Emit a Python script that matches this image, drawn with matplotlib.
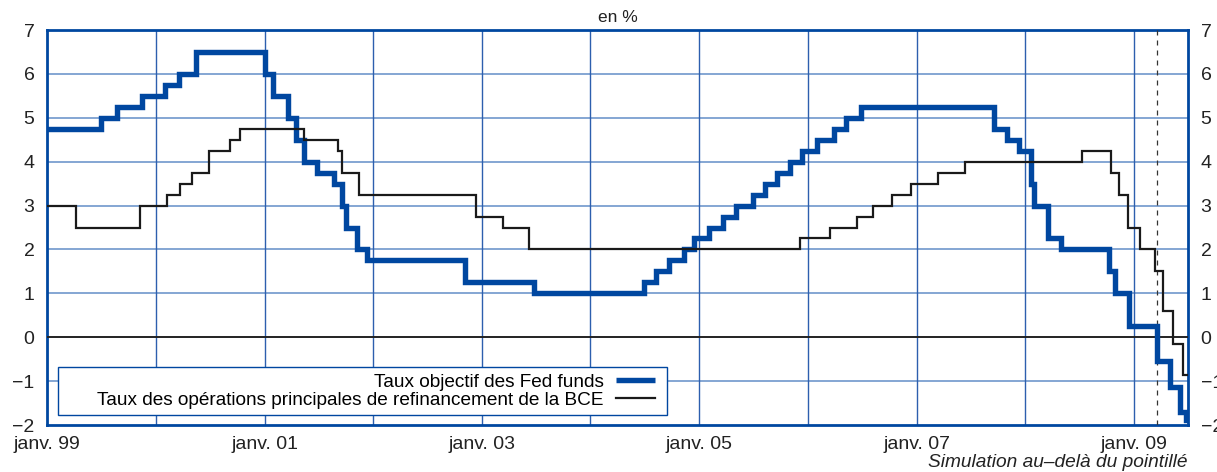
import matplotlib
matplotlib.use("Agg")
import matplotlib.pyplot as plt
from matplotlib.patches import Rectangle
import pandas as pd

plt.rcParams['font.family'] = ['Liberation Sans', 'DejaVu Sans']

# Taux objectif des Fed funds (dates de changement, valeurs)
fed_dates = ["1999-01-01", "1999-06-30", "1999-08-24", "1999-11-16", "2000-02-02",
             "2000-03-21", "2000-05-16", "2001-01-03", "2001-01-31", "2001-03-20",
             "2001-04-18", "2001-05-15", "2001-06-27", "2001-08-21", "2001-09-17",
             "2001-10-02", "2001-11-06", "2001-12-11", "2002-11-06", "2003-06-25",
             "2004-06-30", "2004-08-10", "2004-09-21", "2004-11-10", "2004-12-14",
             "2005-02-02", "2005-03-22", "2005-05-03", "2005-06-30", "2005-08-09",
             "2005-09-20", "2005-11-01", "2005-12-13", "2006-01-31", "2006-03-28",
             "2006-05-10", "2006-06-29", "2007-09-18", "2007-10-31", "2007-12-11",
             "2008-01-22", "2008-01-30", "2008-03-18", "2008-04-30", "2008-10-08",
             "2008-10-29", "2008-12-16", "2009-03-20", "2009-05-01", "2009-06-03",
             "2009-06-24", "2009-07-01"]
fed_values = [4.75, 5.00, 5.25, 5.50, 5.75, 6.00, 6.50, 6.00, 5.50, 5.00,
              4.50, 4.00, 3.75, 3.50, 3.00, 2.50, 2.00, 1.75, 1.25, 1.00,
              1.25, 1.50, 1.75, 2.00, 2.25, 2.50, 2.75, 3.00, 3.25, 3.50,
              3.75, 4.00, 4.25, 4.50, 4.75, 5.00, 5.25, 4.75, 4.50, 4.25,
              3.50, 3.00, 2.25, 2.00, 1.50, 1.00, 0.25, -0.55, -1.13, -1.70,
              -1.88, -1.88]

# Taux des opérations principales de refinancement de la BCE
bce_dates = ["1999-01-01", "1999-04-09", "1999-11-10", "2000-02-09", "2000-03-22",
             "2000-05-03", "2000-06-28", "2000-09-06", "2000-10-11", "2001-05-15",
             "2001-09-05", "2001-09-18", "2001-11-14", "2002-12-11", "2003-03-12",
             "2003-06-09", "2005-12-06", "2006-03-15", "2006-06-15", "2006-08-09",
             "2006-10-11", "2006-12-13", "2007-03-14", "2007-06-13", "2008-07-09",
             "2008-10-15", "2008-11-12", "2008-12-10", "2009-01-21", "2009-03-11",
             "2009-04-08", "2009-05-12", "2009-06-14", "2009-07-01"]
bce_values = [3.00, 2.50, 3.00, 3.25, 3.50, 3.75, 4.25, 4.50, 4.75, 4.50,
              4.25, 3.75, 3.25, 2.75, 2.50, 2.00, 2.25, 2.50, 2.75, 3.00,
              3.25, 3.50, 3.75, 4.00, 4.25, 3.75, 3.25, 2.50, 2.00, 1.50,
              0.60, -0.15, -0.85, -0.85]

simulation_start = "2009-03-20"
x_start, x_end = "1999-01-01", "2009-07-01"

blue = '#0047a0'
txt = '#222222'

fig = plt.figure(figsize=(12.17, 4.72), dpi=100)
ax = fig.add_axes([47 / 1217, 1 - 425 / 472, 1141 / 1217, 395 / 472])

fed_x = pd.to_datetime(fed_dates)
bce_x = pd.to_datetime(bce_dates)

ax.step(fed_x, fed_values, where='post', color=blue, lw=3.9,
        solid_joinstyle='miter', solid_capstyle='butt', zorder=4,
        label='Taux objectif des Fed funds')
ax.step(bce_x, bce_values, where='post', color='#1a1a1a', lw=1.6,
        solid_joinstyle='miter', zorder=5,
        label='Taux des opérations principales de refinancement de la BCE')

# ligne zéro et début de la simulation
ax.axhline(0, color=txt, lw=1.4, zorder=3)
ax.axvline(pd.Timestamp(simulation_start), color='#333333', lw=0.9,
           ls=(0, (4, 4)), zorder=3)

ax.set_xlim(pd.Timestamp(x_start), pd.Timestamp(x_end))
ax.set_ylim(-2, 7)
ax.set_yticks(range(-2, 8))

years = pd.date_range("1999-01-01", "2009-01-01", freq='YS')
ax.set_xticks(years)
ax.set_xticklabels(["janv. %s" % y.strftime('%y') if y.year % 2 == 1 else ""
                    for y in years])

# grille
for y in range(-1, 7):
    if y != 0:
        ax.axhline(y, color='#7b9fd0', lw=1.3, zorder=1)
for y in years[1:]:
    ax.axvline(y, color='#2d5fae', lw=1.0, zorder=1)

for s in ax.spines.values():
    s.set_color(blue)
    s.set_linewidth(2.0)

ax.tick_params(axis='both', length=0, labelsize=14, colors=txt)
ax.tick_params(axis='x', pad=8)
ax.tick_params(axis='y', pad=9, labelright=True, right=False)

ax.text(0.5, 1.012, 'en %', transform=ax.transAxes, ha='center', va='bottom',
        fontsize=12.5, color=txt)
fig.text(1188 / 1217, 0.002, 'Simulation au–delà du pointillé',
         ha='right', va='bottom', fontsize=13.8, style='italic', color=txt)

# cadre de la légende (plus large que son contenu, à gauche)
ax.add_patch(Rectangle((11 / 1141, 10 / 395), 609 / 1141, 48 / 395,
                       transform=ax.transAxes, facecolor='white',
                       edgecolor=blue, lw=1.0, zorder=6))
leg = ax.legend(loc='center right', bbox_to_anchor=(608 / 1141, 34 / 395),
                borderaxespad=0, borderpad=0, markerfirst=False, frameon=False,
                fontsize=13.7, handlelength=2.05, handletextpad=0.65,
                labelspacing=0.05)
leg.set_zorder(7)

fig.savefig('out.png', dpi=100)
